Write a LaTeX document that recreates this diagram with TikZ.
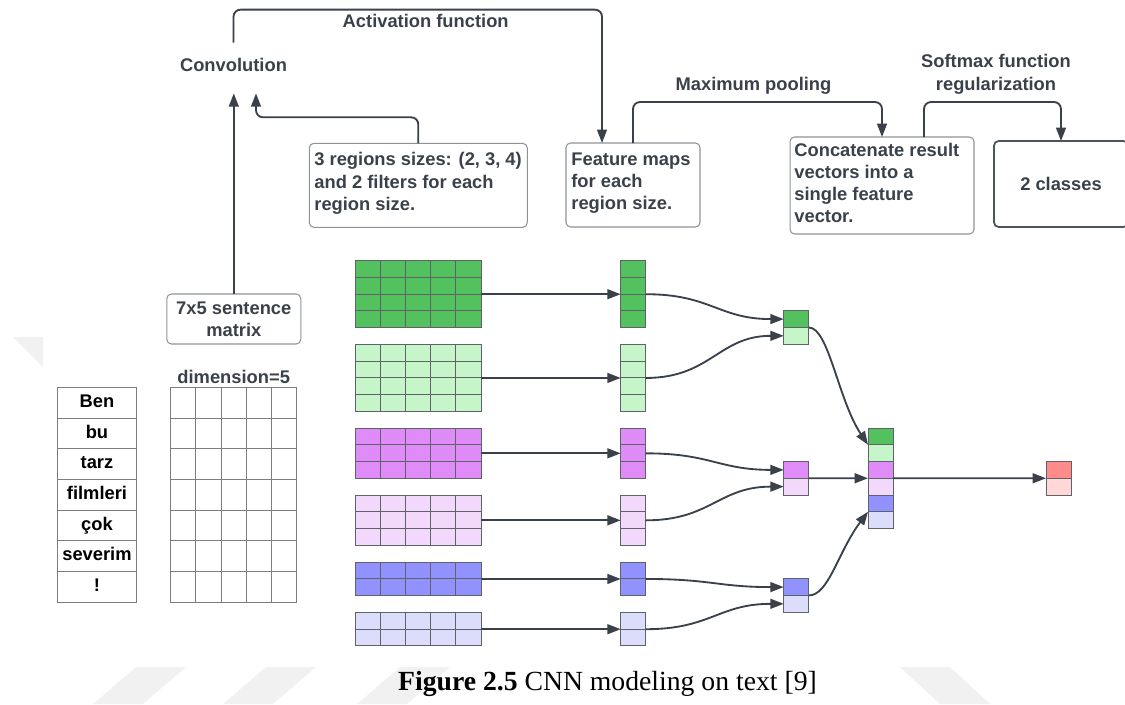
\documentclass[tikz,border=0pt]{standalone}
\usepackage{fontspec}
\setmainfont{Liberation Serif}
\newfontfamily\labfont{Liberation Sans}
\usetikzlibrary{arrows.meta,calc}

\definecolor{ink}{HTML}{3A414A}
\definecolor{boxline}{HTML}{8E9399}
\definecolor{cellline}{HTML}{5E636A}
\definecolor{tabline}{HTML}{7A7E84}
\definecolor{wmark}{HTML}{F1F1F1}
\definecolor{gA}{HTML}{53C15D}
\definecolor{gB}{HTML}{C5F5C9}
\definecolor{pA}{HTML}{DF8CF9}
\definecolor{pB}{HTML}{F2D8FB}
\definecolor{bA}{HTML}{9292FE}
\definecolor{bB}{HTML}{DCDDFB}
\definecolor{rA}{HTML}{FF8B8B}
\definecolor{rB}{HTML}{FFD7D7}

% grid of cells: name, x, y (top left), columns, rows, cell width, cell height, fill, line colour
\newcommand{\cellgrid}[9]{%
  \node[gridbox, draw=#9, fill=#8, minimum width={#4*#6}, minimum height={#5*#7}] (#1) at (#2,#3) {};
  \pgfmathtruncatemacro\gcols{#4-1}%
  \pgfmathtruncatemacro\grows{#5-1}%
  \ifnum\gcols>0
    \foreach \k in {1,...,\gcols}{\draw[draw=#9, line width=0.55pt] ($(#1.north west)!\k/#4!(#1.north east)$) -- ($(#1.south west)!\k/#4!(#1.south east)$);}
  \fi
  \ifnum\grows>0
    \foreach \k in {1,...,\grows}{\draw[draw=#9, line width=0.55pt] ($(#1.north west)!\k/#5!(#1.south west)$) -- ($(#1.north east)!\k/#5!(#1.south east)$);}
  \fi
}

\begin{document}
\begin{tikzpicture}[x=0.02cm, y=-0.02cm,
  lab/.style={font=\labfont\bfseries\fontsize{10.43}{12.6}\selectfont, text=ink, inner sep=0pt},
  word/.style={font=\labfont\bfseries\fontsize{10.43}{12.6}\selectfont, text=black, inner sep=0pt, text height=0.72em, text depth=0.18em},
  conn/.style={draw=ink, line width=1.05pt, -{Triangle[length=7.6pt,width=5.6pt]}},
  flow/.style={conn, rounded corners=4pt},
  infobox/.style={draw=boxline, line width=0.6pt, rounded corners=2.6pt, inner sep=0pt, outer sep=0pt},
  gridbox/.style={line width=0.55pt, inner sep=0pt, outer sep=0pt, anchor=north west},
  cell/.style={draw=cellline, line width=0.55pt, inner sep=0pt, outer sep=0pt, minimum width=0.5cm, minimum height=0.335cm, anchor=north west}
]
\useasboundingbox (0,0) rectangle (1125,704);
\clip (0,0) rectangle (1125,704);

% faint page watermark bands
\fill[wmark] (13,337) -- (43,337) -- (43,367) -- cycle;
\fill[wmark] (136,667) -- (186,667) -- (143,704) -- (93,704) -- cycle;
\fill[wmark] (266,667) -- (316,667) -- (273,704) -- (223,704) -- cycle;
\fill[wmark] (400,667) -- (450,667) -- (407,704) -- (357,704) -- cycle;
\fill[wmark] (900,667) -- (950,667) -- (990,704) -- (940,704) -- cycle;

% ---------- processing steps ----------
\node[lab, minimum height=0.6cm] (conv) at (233.5,65) {Convolution};
\coordinate (convT) at ($(conv.north)+(0,-7)$);
\coordinate (convA) at ($(conv.south)+(0,13)$);
\coordinate (convB) at ($(conv.south)+(22.5,13)$);

\node[lab] (act) at (425.7,21) {Activation function};
\node[lab] (pool) at (753.5,86) {Maximum pooling};
\node[lab, align=center] (soft) at (996,74.3) {Softmax function\\regularization};

\node[infobox, minimum width=4.36cm, minimum height=1.68cm] (rg) at (418.3,185.3) {};
\node[lab, align=left, anchor=west] (rgt) at ($(rg.west)+(4.7,-2)$) {3 regions sizes: (2, 3, 4)\\and 2 filters for each\\region size.};

\node[infobox, minimum width=2.68cm, minimum height=1.68cm] (fm) at (633,185) {};
\node[lab, align=left, anchor=west] (fmt) at ($(fm.west)+(5,-2)$) {Feature maps\\for each\\region size.};

\node[infobox, minimum width=3.68cm, minimum height=1.94cm] (cc) at (882,185.5) {};
\node[lab, align=left, anchor=west] (cct) at ($(cc.west)+(4,-2.7)$) {Concatenate result\\vectors into a\\single feature\\vector.};

\node[infobox, lab, draw=ink!90, line width=1pt, minimum width=2.68cm, minimum height=1.72cm] (cls) at (1061,184) {2 classes};

\node[infobox, lab, align=center, minimum width=2.68cm, minimum height=1cm] (sm) at (233.8,319) {7x5 sentence\\matrix};

\draw[flow] (convT) -- ++(0,-33) -| ($(fm.north west)+(36,0)$);
\draw[flow] (rg.north) -- ++(0,-26) -| (convB);
\draw[conn] (sm.north) -- (sm.north |- convA);
\draw[flow] (fm.north) -- ++(0,-41) -| (cc.north);
\draw[flow] ($(cc.north)+(42,0)$) -- ++(0,-35) -| (cls.north);

% ---------- sentence and its matrix ----------
\cellgrid{wt}{57.3}{387.3}{1}{7}{1.588cm}{0.6143cm}{white}{tabline}
\foreach \i/\w in {1/Ben,2/bu,3/tarz,4/filmleri,5/çok,6/severim,7/!}
  \node[word] (w\i) at ($(wt.north)+(0,{30.71*(\i-0.5)})$) {\w};

\cellgrid{mat}{170.7}{387.3}{5}{7}{0.504cm}{0.6143cm}{white}{tabline}
\node[lab, anchor=south, inner sep=1.7pt] (dim) at (mat.north) {dimension=5};

% ---------- filters and feature maps ----------
\foreach \n/\t/\r/\col in {1/260.7/4/gA, 2/344.45/4/gB, 3/428.2/3/pA, 4/495.2/3/pB, 5/562.2/2/bA, 6/612.45/2/bB}{
  \cellgrid{g\n}{355.7}{\t}{5}{\r}{0.5014cm}{0.335cm}{\col}{cellline}
  \cellgrid{v\n}{620.7}{\t}{1}{\r}{0.5cm}{0.335cm}{\col}{cellline}
  \draw[conn] (g\n.east) -- (v\n.west);
}

% ---------- pooled vectors ----------
\node[cell, fill=gA] (p1a) at (783.7,310.7) {};
\node[cell, fill=gB] (p1b) at (p1a.south west) {};
\node[cell, fill=pA] (p2a) at (783.7,461.5) {};
\node[cell, fill=pB] (p2b) at (p2a.south west) {};
\node[cell, fill=bA] (p3a) at (783.7,578.7) {};
\node[cell, fill=bB] (p3b) at (p3a.south west) {};

\foreach \s/\e in {v1/p1a, v2/p1b, v3/p2a, v4/p2b, v5/p3a, v6/p3b}
  \draw[conn] (\s.east) .. controls ($(\s.east)+(65,0)$) and ($(\e.west)+(-65,0)$) .. (\e.west);

% ---------- concatenated vector ----------
\node[cell, fill=gA] (c1) at (868,428) {};
\node[cell, fill=gB] (c2) at (c1.south west) {};
\node[cell, fill=pA] (c3) at (c2.south west) {};
\node[cell, fill=pB] (c4) at (c3.south west) {};
\node[cell, fill=bA] (c5) at (c4.south west) {};
\node[cell, fill=bB] (c6) at (c5.south west) {};

\draw[conn] (p1a.south east) .. controls ($(p1a.south east)+(20,0)$) and ($(c1.south west)+(-30,-45)$) .. (c1.south west);
\draw[conn] (p2a.south east) -- (c3.south west);
\draw[conn] (p3a.south east) .. controls ($(p3a.south east)+(20,0)$) and ($(c5.south west)+(-30,40)$) .. (c5.south west);

% ---------- output ----------
\node[cell, fill=rA] (oa) at (1046,461.5) {};
\node[cell, fill=rB] (ob) at (oa.south west) {};
\draw[conn] (c3.south east) -- (oa.south west);

% ---------- caption ----------
\node[font=\fontsize{15.76}{19}\selectfont, anchor=base, inner sep=0pt] (cap) at (607.5,690) {\textbf{Figure 2.5} CNN modeling on text [9]};
\end{tikzpicture}
\end{document}
